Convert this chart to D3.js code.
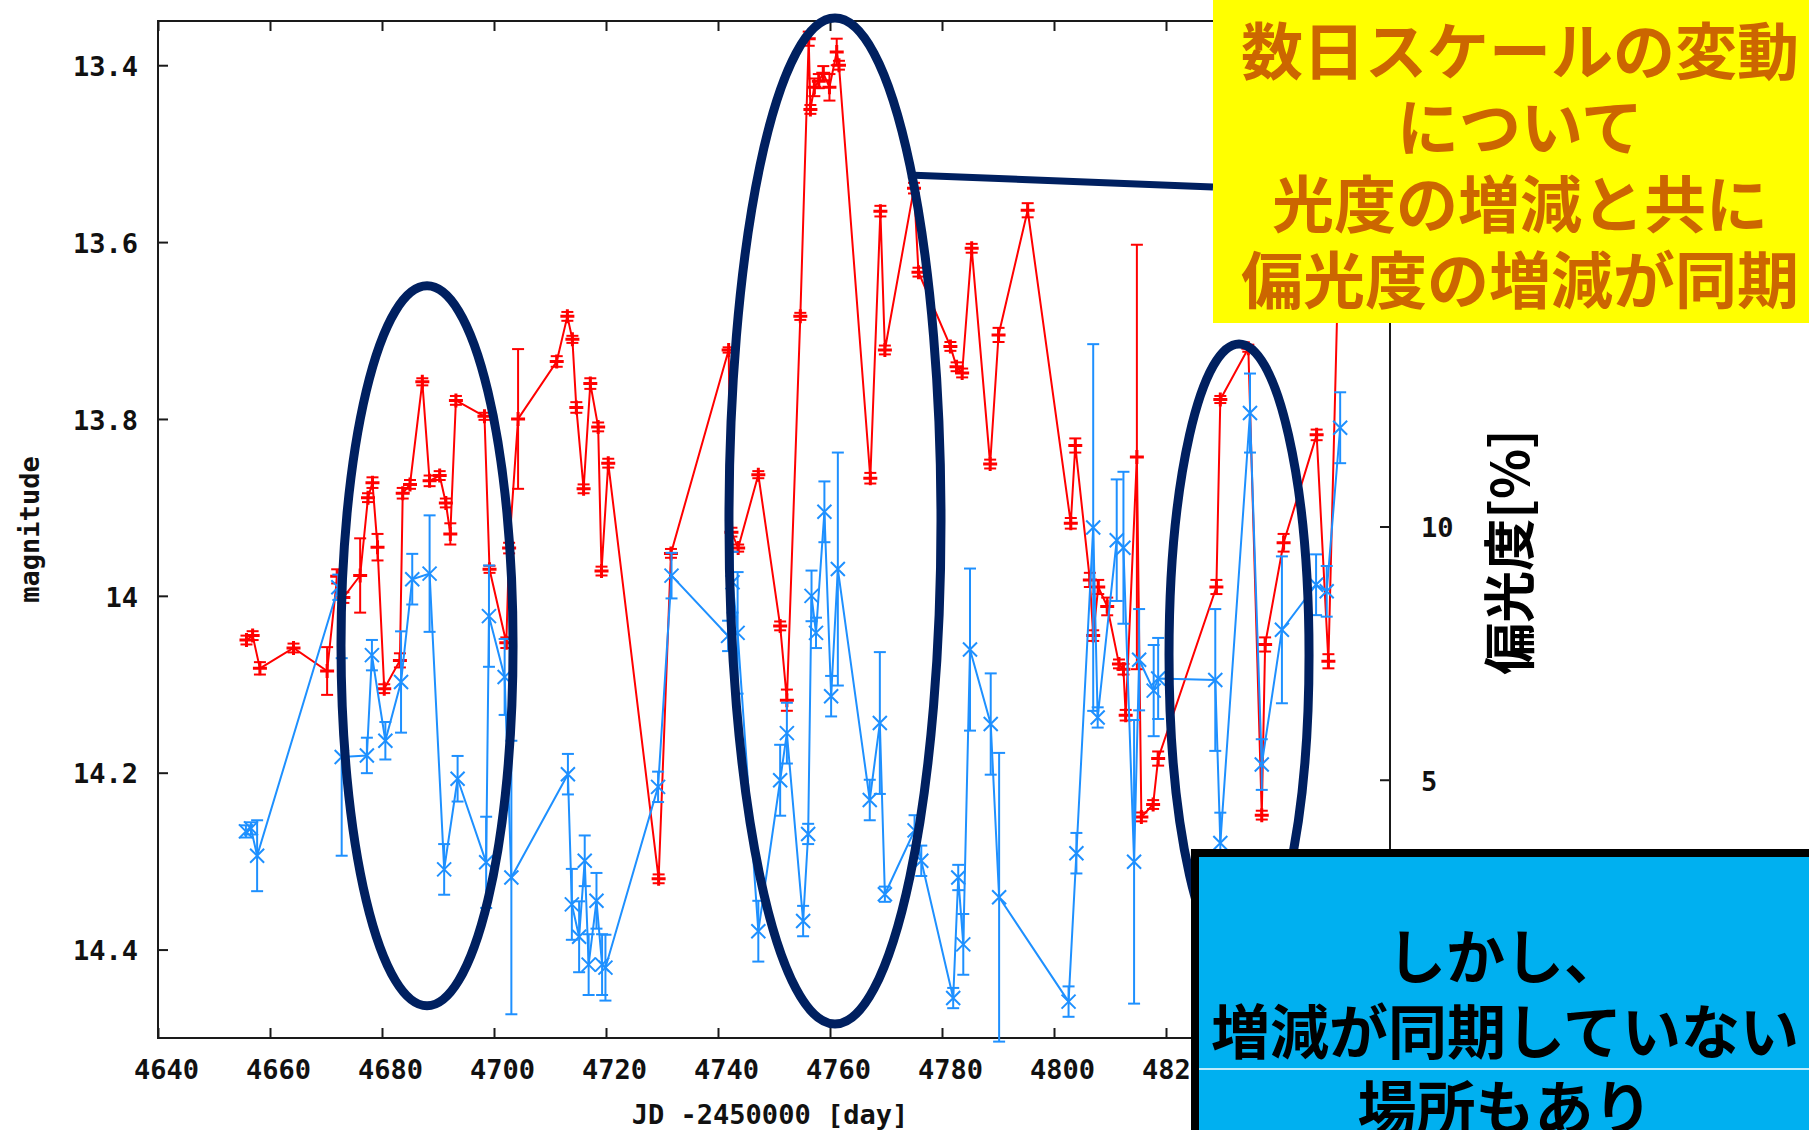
<!DOCTYPE html>
<html>
<head>
<meta charset="utf-8">
<script src="https://cdn.jsdelivr.net/npm/d3@7"></script>
<style>
  html, body { margin: 0; padding: 0; background: #ffffff; }
  svg { display: block; }
</style>
</head>
<body>
<svg id="chart" width="1809" height="1130"></svg>
<script>
// Photometry: [JD - 2450000, magnitude, error]
const photometry = [
  [4655.8, 14.050, 0.005], [4656.9, 14.045, 0.005], [4658.2, 14.082, 0.007], [4664.2, 14.059, 0.005],
  [4670.2, 14.085, 0.027], [4672.0, 13.978, 0.008], [4673.1, 14.002, 0.006], [4676.1, 13.977, 0.042],
  [4677.5, 13.889, 0.005], [4678.3, 13.872, 0.006], [4679.2, 13.945, 0.015], [4680.4, 14.105, 0.005],
  [4683.2, 14.073, 0.008], [4683.7, 13.884, 0.006], [4685.0, 13.874, 0.005], [4687.2, 13.758, 0.004],
  [4688.5, 13.870, 0.006], [4690.3, 13.864, 0.005], [4691.4, 13.895, 0.005], [4692.2, 13.930, 0.012],
  [4693.2, 13.779, 0.005], [4698.3, 13.797, 0.004], [4699.2, 13.970, 0.004], [4702.2, 14.053, 0.006],
  [4702.7, 13.946, 0.006], [4704.3, 13.800, 0.079], [4711.2, 13.735, 0.006], [4713.1, 13.684, 0.005],
  [4714.0, 13.710, 0.004], [4714.7, 13.787, 0.006], [4716.0, 13.879, 0.005], [4717.2, 13.760, 0.006],
  [4718.6, 13.809, 0.005], [4719.2, 13.972, 0.005], [4720.4, 13.850, 0.005], [4729.4, 14.320, 0.005],
  [4731.6, 13.952, 0.005], [4741.9, 13.722, 0.003], [4742.4, 13.928, 0.005], [4743.6, 13.946, 0.004],
  [4747.2, 13.863, 0.004], [4751.1, 14.034, 0.005], [4752.3, 14.118, 0.012], [4754.7, 13.684, 0.004],
  [4756.2, 13.370, 0.008], [4756.5, 13.450, 0.005], [4757.2, 13.425, 0.010], [4758.0, 13.418, 0.008],
  [4758.8, 13.409, 0.008], [4759.9, 13.425, 0.015], [4761.2, 13.385, 0.015], [4761.6, 13.400, 0.005],
  [4767.2, 13.867, 0.006], [4769.0, 13.565, 0.006], [4769.8, 13.722, 0.005], [4775.0, 13.539, 0.006],
  [4775.8, 13.634, 0.005], [4781.5, 13.718, 0.005], [4782.6, 13.741, 0.005], [4783.6, 13.748, 0.005],
  [4785.3, 13.607, 0.005], [4788.6, 13.851, 0.005], [4790.1, 13.705, 0.008], [4795.3, 13.564, 0.008],
  [4803.0, 13.918, 0.006], [4803.8, 13.830, 0.008], [4806.4, 13.982, 0.008], [4807.0, 14.045, 0.006],
  [4807.9, 13.990, 0.008], [4809.5, 14.012, 0.010], [4811.6, 14.077, 0.005], [4812.4, 14.083, 0.006],
  [4812.8, 14.135, 0.006], [4814.8, 13.843, 0.240], [4815.6, 14.250, 0.005], [4817.7, 14.236, 0.005],
  [4818.6, 14.184, 0.008], [4829.0, 13.990, 0.008], [4829.7, 13.778, 0.004], [4834.7, 13.720, 0.004],
  [4837.1, 14.248, 0.005], [4837.7, 14.055, 0.008], [4841.0, 13.940, 0.010], [4846.9, 13.818, 0.006],
  [4849.0, 14.074, 0.008], [4850.8, 13.620, 0.030]
];

// Polarimetry: [JD - 2450000, polarization degree %, error]
const polarimetry = [
  [4655.7, 3.98, 0.12], [4656.6, 4.04, 0.12], [4657.7, 3.50, 0.70], [4672.2, 8.80, 0.25],
  [4672.8, 5.45, 1.95], [4677.3, 5.48, 0.35], [4678.2, 7.46, 0.30], [4680.6, 5.77, 0.37],
  [4683.4, 6.93, 1.00], [4685.4, 8.96, 0.50], [4688.5, 9.07, 1.15], [4691.1, 3.23, 0.50],
  [4693.5, 5.02, 0.45], [4698.6, 3.37, 0.90], [4699.1, 8.23, 1.00], [4701.9, 7.03, 0.75],
  [4703.1, 3.07, 2.70], [4713.2, 5.11, 0.40], [4713.9, 2.54, 0.70], [4715.2, 1.90, 0.70],
  [4716.2, 3.40, 0.50], [4716.9, 1.35, 0.60], [4718.3, 2.61, 0.55], [4719.3, 1.35, 0.60],
  [4719.9, 1.29, 0.65], [4729.3, 4.86, 0.30], [4731.7, 9.03, 0.45], [4741.8, 7.84, 0.30],
  [4742.6, 8.90, 0.60], [4743.5, 7.90, 1.20], [4747.2, 2.01, 0.60], [4751.1, 4.99, 0.70],
  [4752.3, 5.92, 0.60], [4755.2, 2.21, 0.30], [4756.1, 3.93, 0.20], [4756.7, 8.63, 0.50],
  [4757.5, 7.90, 0.30], [4759.0, 10.29, 0.60], [4760.2, 6.65, 0.40], [4761.4, 9.16, 2.30],
  [4767.1, 4.60, 0.40], [4768.9, 6.12, 1.40], [4769.8, 2.74, 0.15], [4775.1, 4.00, 0.30],
  [4776.3, 3.40, 0.30], [4782.0, 0.69, 0.20], [4782.9, 3.07, 0.25], [4783.8, 1.75, 0.60],
  [4785.0, 7.57, 1.60], [4788.7, 6.10, 1.00], [4790.2, 2.68, 2.85], [4802.6, 0.62, 0.30],
  [4804.0, 3.55, 0.40], [4807.0, 9.98, 3.62], [4807.8, 6.23, 0.20], [4811.2, 9.73, 1.20],
  [4812.4, 9.58, 1.50], [4814.3, 3.38, 2.80], [4815.2, 7.37, 1.00], [4817.8, 6.76, 0.90],
  [4818.6, 7.00, 0.80], [4828.8, 6.97, 1.40], [4829.7, 3.75, 0.60], [4835.0, 12.24, 0.78],
  [4837.1, 5.30, 0.50], [4840.7, 7.96, 1.45], [4846.8, 8.85, 0.60], [4848.7, 8.72, 0.50],
  [4851.1, 11.95, 0.70]
];

// Axis ticks and the tick labels that are printed
const dayTicks = [4640, 4660, 4680, 4700, 4720, 4740, 4760, 4780, 4800, 4820, 4840, 4860];
const dayTickLabels = [4640, 4660, 4680, 4700, 4720, 4740, 4760, 4780, 4800, 4820];
const magTicks = [13.4, 13.6, 13.8, 14, 14.2, 14.4];
const polTicks = [0, 5, 10, 15, 20];
const polTickLabels = [5, 10];

// Axis titles
const xTitle = "JD -2450000 [day]";
const yTitle = "magnitude";
const y2Title = "偏光度[%]";

// Callout texts
const syncNote = ["数日スケールの変動", "について", "光度の増減と共に", "偏光度の増減が同期"];
const asyncNote = ["しかし、", "増減が同期していない", "場所もあり"];

// Highlighted intervals, in data units: centre day / magnitude and half-extents
const highlights = [
  { day: 4688.04, mag: 14.0565, halfDays: 15.36, halfMag: 0.4071 },
  { day: 4760.89, mag: 13.9154, halfDays: 18.93, halfMag: 0.5688 },
  { day: 4833.04, mag: 14.0669, halfDays: 12.50, halfMag: 0.3517 }
];
const pointer = { fromDay: 4773.93, fromMag: 13.5241, toDay: 4828.39, toMag: 13.5377 };

const svg = d3.select("#chart");
const frame = { left: 158, right: 1390, top: 21, bottom: 1038 };

const x = d3.scaleLinear().domain([4640, 4860]).range([frame.left, frame.right]);
const y = d3.scaleLinear().domain([13.35, 14.5]).range([frame.top, frame.bottom]);
const y2 = d3.scaleLinear().domain([0, 20]).range([1033, 20]);

const RED = "#ff0000";
const BLUE = "#1e90ff";
const NAVY = "#002060";
const AXIS_FONT = "'DejaVu Sans Mono', 'Liberation Mono', monospace";
const JP_FONT = "'Noto Sans CJK JP', 'Noto Sans CJK SC', sans-serif";

svg.append("rect").attr("width", 1809).attr("height", 1130).attr("fill", "#ffffff");

// ---- axes ----
function styleAxis(g) {
  g.select(".domain").remove();
  g.selectAll(".tick line").attr("stroke", "#1a1a1a").attr("stroke-width", 2);
  g.selectAll(".tick text")
    .attr("fill", "#111")
    .style("font-family", AXIS_FONT)
    .style("font-weight", "bold")
    .style("font-size", "27px");
}

svg.append("g")
  .attr("transform", `translate(0,${frame.bottom})`)
  .call(d3.axisBottom(x).tickValues(dayTicks)
        .tickFormat(d => dayTickLabels.includes(d) ? d3.format("d")(d) : "")
        .tickSize(-10).tickSizeOuter(0).tickPadding(22))
  .call(styleAxis)
  .call(g => g.selectAll(".tick text").attr("dx", 8));

svg.append("g")
  .attr("transform", `translate(0,${frame.top})`)
  .call(d3.axisTop(x).tickValues(dayTicks).tickFormat("").tickSize(-10).tickSizeOuter(0))
  .call(styleAxis);

svg.append("g")
  .attr("transform", `translate(${frame.left},0)`)
  .call(d3.axisLeft(y).tickValues(magTicks).tickFormat(d => String(d))
        .tickSize(-10).tickSizeOuter(0).tickPadding(20))
  .call(styleAxis)
  .call(g => g.selectAll(".tick text").attr("dy", "0.38em"));

svg.append("g")
  .attr("transform", `translate(${frame.right},0)`)
  .call(d3.axisRight(y2).tickValues(polTicks)
        .tickFormat(d => polTickLabels.includes(d) ? String(d) : "")
        .tickSize(-10).tickSizeOuter(0).tickPadding(31))
  .call(styleAxis)
  .call(g => g.selectAll(".tick text").attr("dy", "0.38em"));

svg.append("rect")
  .attr("x", frame.left).attr("y", frame.top)
  .attr("width", frame.right - frame.left).attr("height", frame.bottom - frame.top)
  .attr("fill", "none").attr("stroke", "#1a1a1a").attr("stroke-width", 2);

svg.append("text")
  .attr("transform", `translate(29,${(frame.top + frame.bottom) / 2}) rotate(-90)`)
  .attr("text-anchor", "middle").attr("dominant-baseline", "central")
  .style("font-family", AXIS_FONT).style("font-weight", "bold").style("font-size", "27px")
  .attr("fill", "#111").text(yTitle);

svg.append("text")
  .attr("x", 770).attr("y", 1114)
  .attr("text-anchor", "middle").attr("dominant-baseline", "central")
  .style("font-family", AXIS_FONT).style("font-weight", "bold").style("font-size", "27px")
  .attr("fill", "#111").text(xTitle);

svg.append("text")
  .attr("transform", "translate(1506,552) rotate(-90)")
  .attr("text-anchor", "middle").attr("dominant-baseline", "central")
  .style("font-family", JP_FONT).style("font-weight", "bold").style("font-size", "52px")
  .attr("fill", "#000").text(y2Title);

// ---- series with error bars ----
const plot = svg.append("g");

function drawSeries(rows, yScale, color, marker, markerWidth) {
  const g = plot.append("g").attr("stroke", color).attr("stroke-width", 2).attr("fill", "none");
  g.append("path")
    .datum(rows)
    .attr("d", d3.line().x(d => x(d[0])).y(d => yScale(d[1])));

  const pts = g.selectAll("g.pt").data(rows).join("g").attr("class", "pt");
  const cap = 6;
  pts.append("line")
    .attr("x1", d => x(d[0])).attr("x2", d => x(d[0]))
    .attr("y1", d => yScale(d[1] - d[2])).attr("y2", d => yScale(d[1] + d[2]));
  pts.append("line")
    .attr("x1", d => x(d[0]) - cap).attr("x2", d => x(d[0]) + cap)
    .attr("y1", d => yScale(d[1] - d[2])).attr("y2", d => yScale(d[1] - d[2]));
  pts.append("line")
    .attr("x1", d => x(d[0]) - cap).attr("x2", d => x(d[0]) + cap)
    .attr("y1", d => yScale(d[1] + d[2])).attr("y2", d => yScale(d[1] + d[2]));

  const s = 7;
  const glyph = pts.append("path").attr("stroke-width", markerWidth);
  if (marker === "plus") {
    glyph.attr("d", d => {
      const cx = x(d[0]), cy = yScale(d[1]);
      return `M${cx - s},${cy}H${cx + s}M${cx},${cy - s}V${cy + s}`;
    });
  } else {
    glyph.attr("d", d => {
      const cx = x(d[0]), cy = yScale(d[1]);
      return `M${cx - s},${cy - s}L${cx + s},${cy + s}M${cx - s},${cy + s}L${cx + s},${cy - s}`;
    });
  }
}

drawSeries(photometry, y, RED, "plus", 3);
drawSeries(polarimetry, y2, BLUE, "cross", 2);

// ---- highlight ellipses and pointer ----
const notes = svg.append("g").attr("fill", "none").attr("stroke", NAVY);
notes.selectAll("ellipse").data(highlights).join("ellipse")
  .attr("cx", d => x(d.day)).attr("cy", d => y(d.mag))
  .attr("rx", d => x(d.day + d.halfDays) - x(d.day))
  .attr("ry", d => y(d.mag + d.halfMag) - y(d.mag))
  .attr("stroke-width", 9);

notes.append("line")
  .attr("x1", x(pointer.fromDay)).attr("y1", y(pointer.fromMag))
  .attr("x2", x(pointer.toDay)).attr("y2", y(pointer.toMag))
  .attr("stroke-width", 7);

// ---- callout: synchronised variation ----
svg.append("rect")
  .attr("x", 1213).attr("y", 0).attr("width", 600).attr("height", 323)
  .attr("fill", "#ffff00");

svg.append("g").selectAll("text").data(syncNote).join("text")
  .attr("x", 1520).attr("y", (d, i) => 48 + i * 76.3)
  .attr("text-anchor", "middle").attr("dominant-baseline", "central")
  .style("font-family", JP_FONT).style("font-weight", "bold").style("font-size", "62px")
  .attr("fill", "#cc6600").text(d => d);

// ---- callout: unsynchronised places ----
svg.append("rect")
  .attr("x", 1195).attr("y", 853).attr("width", 700).attr("height", 400)
  .attr("fill", "#00b0f0").attr("stroke", "#000").attr("stroke-width", 8);

svg.append("line")
  .attr("x1", 1199).attr("x2", 1809).attr("y1", 1069).attr("y2", 1069)
  .attr("stroke", "#ffffff").attr("stroke-width", 1.5);

svg.append("g").selectAll("text").data(asyncNote).join("text")
  .attr("x", 1505).attr("y", (d, i) => 953 + i * 75.5)
  .attr("text-anchor", "middle").attr("dominant-baseline", "central")
  .style("font-family", JP_FONT).style("font-weight", "bold").style("font-size", "59px")
  .attr("fill", "#000").text(d => d);
</script>
</body>
</html>
